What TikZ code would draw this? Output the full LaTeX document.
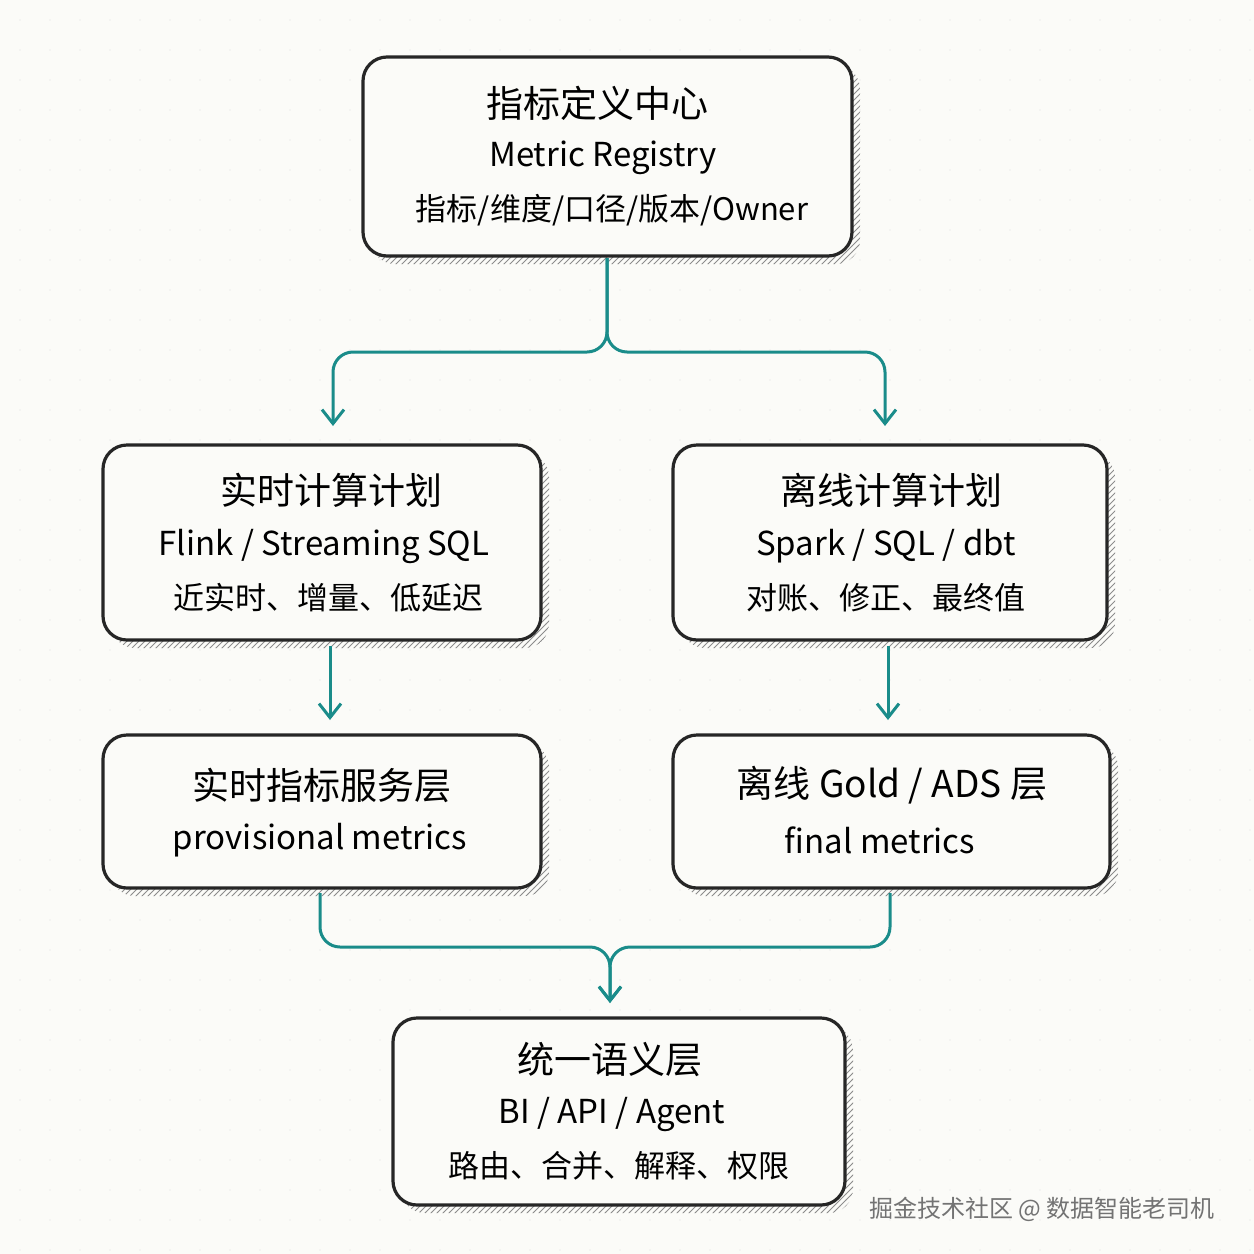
\documentclass[tikz,border=0pt]{standalone}
\usepackage{fontspec}
\setmainfont{Noto Sans CJK SC}
\usetikzlibrary{arrows.meta,patterns}
\definecolor{teal2}{HTML}{1A8C8A}
\definecolor{bg}{HTML}{FBFBF8}
\tikzset{
 box/.style={draw=black!85,line width=1.6pt,rounded corners=12pt,fill=bg},
 shad/.style={pattern=north east lines,pattern color=black!45,rounded corners=12pt},
 conn/.style={draw=teal2,line width=1.5pt,rounded corners=10pt},
 arr/.style={conn,-{Straight Barb[length=7pt,width=11pt,line width=1.5pt]}},
 t1/.style={font=\fontsize{18.5}{22}\selectfont},
 t2/.style={font=\fontsize{16.5}{20}\selectfont},
 t3/.style={font=\fontsize{15.5}{19}\selectfont},
}
\newcommand{\bx}[5]{%
 \fill[shad] (#1+8,#2+8) rectangle (#3+8,#4+8);
 \draw[box] (#1,#2) rectangle (#3,#4);
 \node[inner sep=0] (#5) at ({(#1+#3)/2},{(#2+#4)/2}) {};
}
\begin{document}
\begin{tikzpicture}[x=0.5pt,y=-0.5pt]
\fill[bg] (0,0) rectangle (1254,1254);
\foreach \i in {20,50,...,1250}{\foreach \j in {20,50,...,1250}{\fill[black!12] (\i,\j) circle (0.6);}}
\bx{363}{57}{852}{256}{top}
\bx{103}{445}{541}{640}{rt}
\bx{673}{445}{1107}{640}{of}
\bx{103}{735}{541}{888}{rts}
\bx{673}{735}{1110}{888}{ofs}
\bx{393}{1018}{845}{1205}{uni}
\node[t1] at (597,103) {指标定义中心};
\node[t2] at (603,158) {Metric Registry};
\node[t3] at (612,210) {指标/维度/口径/版本/Owner};
\node[t1] at (331,490) {实时计算计划};
\node[t2] at (324,546) {Flink / Streaming SQL};
\node[t3] at (328,598) {近实时、增量、低延迟};
\node[t1] at (891,490) {离线计算计划};
\node[t2] at (886,546) {Spark / SQL / dbt};
\node[t3] at (886,598) {对账、修正、最终值};
\node[t1] at (322,785) {实时指标服务层};
\node[t2] at (320,840) {provisional metrics};
\node[t1] at (892,785) {离线 Gold / ADS 层};
\node[t2] at (880,840) {final metrics};
\node[t1] at (610,1060) {统一语义层};
\node[t2] at (612,1115) {BI / API / Agent};
\node[t3] at (619,1166) {路由、合并、解释、权限};
\node[font=\fontsize{12}{14}\selectfont,text=black!55] (wm) at (1042,1209) {掘金技术社区 @ 数据智能老司机};
\coordinate (j0) at (607,258);
\coordinate (j1) at (607,352);
\draw[arr] (j0) -- (j1) -- (333,352) -- (333,426);
\draw[arr] (j0) -- (j1) -- (885,352) -- (885,426);
\draw[arr] (330,646) -- (330,720);
\draw[arr] (888,646) -- (888,720);
\coordinate (j2) at (610,947);
\coordinate (j3) at (610,1003);
\draw[arr] (320,893) -- (320,947) -- (j2) -- (j3);
\draw[arr] (890,893) -- (890,947) -- (j2) -- (j3);
\end{tikzpicture}
\end{document}
